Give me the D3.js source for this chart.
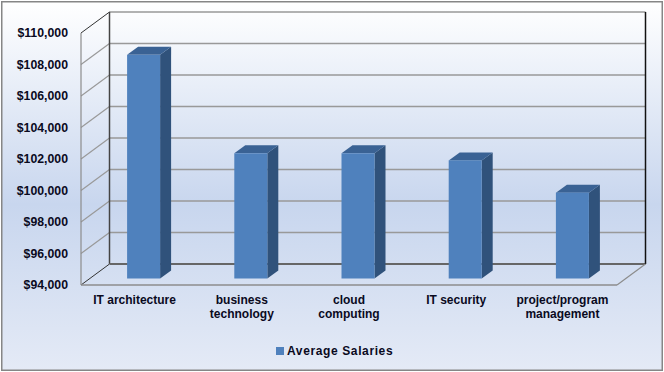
<!DOCTYPE html>
<html>
<head>
<meta charset="utf-8">
<script src="https://cdn.jsdelivr.net/npm/d3@7"></script>
<style>
html, body { margin: 0; padding: 0; background: #fff; }
svg { display: block; }
text { font-family: "Liberation Sans", Arial, sans-serif; font-weight: bold; font-size: 12px; fill: #0a0a1e; }
</style>
</head>
<body>
<div id="chart"></div>
<script>
const categories = [["IT architecture"], ["business", "technology"], ["cloud", "computing"], ["IT security"], ["project/program", "management"]];
const salaries = [108200, 101950, 101950, 101500, 99450];
const yTicks = [94000, 96000, 98000, 100000, 102000, 104000, 106000, 108000, 110000];
const seriesName = "Average Salaries";

const width = 664, height = 372;
// front plane of the 3d box, the back wall is shifted by depth
const plotLeft = 81, plotRight = 617, plotTop = 33, plotBottom = 285;
const depthX = 28.5, depthY = -21;
// where the bar sits inside the depth of the box
const barOffX = 9, barOffY = -6.5, barDepthX = 11, barDepthY = -8;

const svg = d3.select("#chart").append("svg")
    .attr("width", width)
    .attr("height", height);

const grad = svg.append("defs").append("linearGradient")
    .attr("id", "bg").attr("x1", 0).attr("y1", 0).attr("x2", 0).attr("y2", 1);
grad.append("stop").attr("offset", "0%").attr("stop-color", "#ffffff");
grad.append("stop").attr("offset", "55%").attr("stop-color", "#c8d6ee");
grad.append("stop").attr("offset", "100%").attr("stop-color", "#e4eaf6");

svg.append("rect")
    .attr("x", 1.75).attr("y", 1.75)
    .attr("width", width - 3.5).attr("height", height - 3.5)
    .attr("fill", "url(#bg)")
    .attr("stroke", "#868686")
    .attr("stroke-width", 1.5);

const x = d3.scaleBand()
    .domain(categories.map(d => d.join(" ")))
    .range([plotLeft, plotRight]);

const y = d3.scaleLinear()
    .domain([94000, 110000])
    .range([plotBottom, plotTop]);

// grid on the back wall and on the left wall
const grid = svg.append("g");
grid.append("g").selectAll("line")
    .data(yTicks.slice(1))
    .join("line")
    .attr("x1", plotLeft + depthX).attr("x2", plotRight + depthX)
    .attr("y1", d => y(d) + depthY).attr("y2", d => y(d) + depthY)
    .attr("stroke", "#999").attr("stroke-width", 1.5);
grid.append("g").selectAll("line")
    .data(yTicks.slice(1, -1))
    .join("line")
    .attr("x1", plotLeft).attr("x2", plotLeft + depthX)
    .attr("y1", d => y(d)).attr("y2", d => y(d) + depthY)
    .attr("stroke", "#999").attr("stroke-width", 1.2);

// box outline
const frame = [
    [plotLeft, plotTop, plotLeft + depthX, plotTop + depthY, "#333", 1],
    [plotLeft, plotBottom, plotLeft + depthX, plotBottom + depthY, "#333", 1],
    [plotLeft + depthX, plotTop + depthY, plotLeft + depthX, plotBottom + depthY, "#444", 1.5],
    [plotLeft + depthX, plotBottom + depthY, plotRight + depthX, plotBottom + depthY, "#666", 2],
    [plotRight + depthX, plotTop + depthY, plotRight + depthX, plotBottom + depthY, "#111", 1.5],
    [plotLeft, plotTop, plotLeft, plotBottom, "#8c8c8c", 1.2],
    [plotLeft, plotBottom, plotRight, plotBottom, "#8c8c8c", 1.5],
    [plotRight, plotBottom, plotRight + depthX, plotBottom + depthY, "#8c8c8c", 1.2]
];
grid.append("g").selectAll("line")
    .data(frame)
    .join("line")
    .attr("x1", d => d[0]).attr("y1", d => d[1])
    .attr("x2", d => d[2]).attr("y2", d => d[3])
    .attr("stroke", d => d[4]).attr("stroke-width", d => d[5]);

// bars: front, right side, top
const barW = 33;
const bars = svg.append("g").selectAll("g")
    .data(salaries)
    .join("g")
    .attr("transform", (d, i) => `translate(${x(x.domain()[i]) + x.bandwidth() / 2 + barOffX - barW / 2},${barOffY})`);

bars.append("path")
    .attr("fill", "#30527b")
    .attr("d", d => `M${barW},${y(d)}l${barDepthX},${barDepthY}V${plotBottom + barDepthY}l${-barDepthX},${-barDepthY}Z`);
bars.append("path")
    .attr("fill", "#3a6294")
    .attr("d", d => `M0,${y(d)}l${barDepthX},${barDepthY}h${barW}l${-barDepthX},${-barDepthY}Z`);
bars.append("rect")
    .attr("x", 0)
    .attr("y", d => y(d))
    .attr("width", barW)
    .attr("height", d => plotBottom - y(d))
    .attr("fill", "#4f81bd");

// axes, only the labels are kept
const yAxis = svg.append("g")
    .attr("transform", `translate(${plotLeft - 13},0)`)
    .call(d3.axisLeft(y).tickValues(yTicks).tickSize(0).tickPadding(0).tickFormat(d3.format("$,")));
yAxis.select(".domain").remove();
yAxis.selectAll("text").style("font-size", "12.3px");

const xAxis = svg.append("g")
    .attr("transform", `translate(0,${plotBottom})`)
    .call(d3.axisBottom(x).tickSize(0).tickFormat(""));
xAxis.select(".domain").remove();
xAxis.selectAll(".tick text")
    .attr("y", 0).attr("dy", null)
    .each(function(d, i) {
        d3.select(this).selectAll("tspan")
            .data(categories[i])
            .join("tspan")
            .attr("x", i === 4 ? -1 : 0)
            .attr("y", (t, j) => 19 + j * 14)
            .text(t => t);
    });

// legend
svg.append("rect")
    .attr("x", 276).attr("y", 347)
    .attr("width", 8).attr("height", 8)
    .attr("fill", "#4f81bd");
svg.append("text")
    .attr("x", 287).attr("y", 355)
    .style("font-size", "12px")
    .style("letter-spacing", "0.62px")
    .text(seriesName);
</script>
</body>
</html>
